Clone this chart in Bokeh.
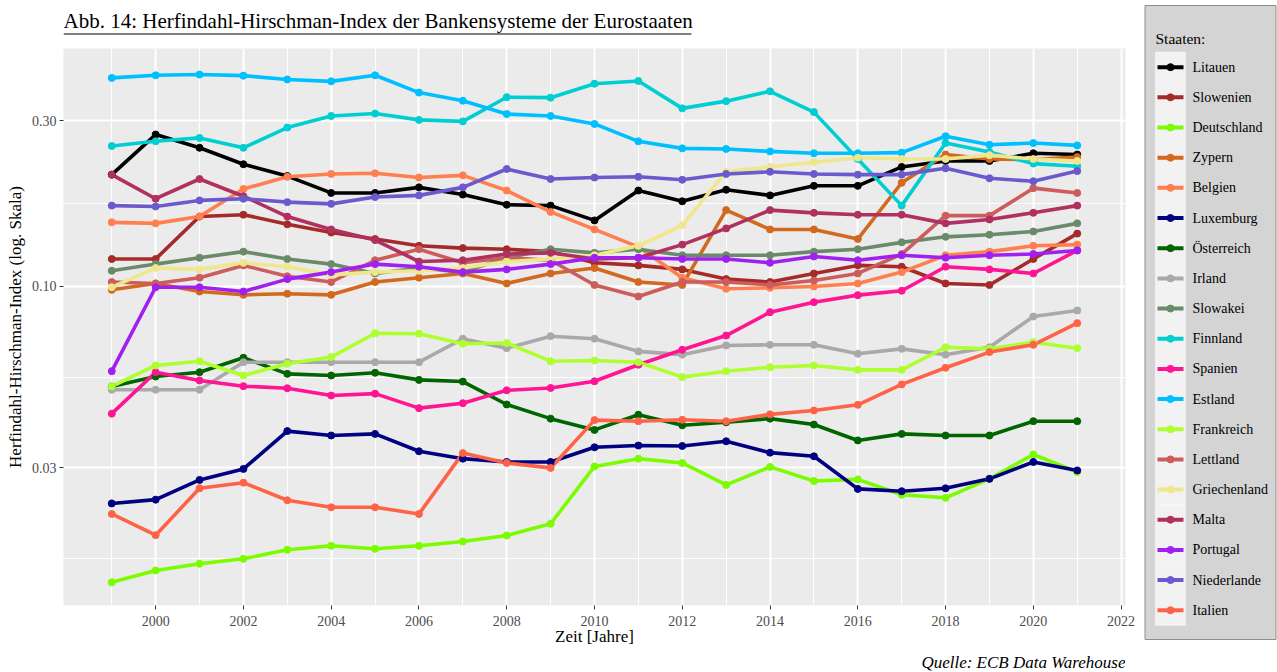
from bokeh.plotting import figure
from bokeh.layouts import row, column
from bokeh.models import Range1d, FixedTicker, CustomJSTickFormatter
from bokeh.embed import file_html
from bokeh.resources import INLINE
from bokeh.core.properties import value

# Herfindahl-Hirschman-Index der Bankensysteme, 1999-2021
jahre = list(range(1999, 2022))

litauen = [0.210, 0.274, 0.251, 0.225, 0.208, 0.186, 0.186, 0.193, 0.184, 0.172, 0.171, 0.155,
           0.189, 0.176, 0.190, 0.183, 0.195, 0.195, 0.221, 0.230, 0.230, 0.242, 0.240]
slowenien = [0.120, 0.120, 0.159, 0.161, 0.151, 0.143, 0.137, 0.131, 0.129, 0.128, 0.126, 0.117,
             0.115, 0.112, 0.105, 0.103, 0.109, 0.115, 0.114, 0.102, 0.101, 0.120, 0.142]
deutschland = [0.01405, 0.01519, 0.01588, 0.01641, 0.01742, 0.0179, 0.01754, 0.0179, 0.01841, 0.01916,
               0.02071, 0.0303, 0.0319, 0.0310, 0.0268, 0.0302, 0.0275, 0.0278, 0.0251, 0.0246,
               0.0279, 0.0328, 0.0292]
zypern = [0.0978, 0.102, 0.0967, 0.0946, 0.0953, 0.0946, 0.103, 0.106, 0.109, 0.102, 0.109, 0.113,
          0.103, 0.101, 0.166, 0.146, 0.146, 0.137, 0.199, 0.240, 0.233, 0.232, 0.236]
belgien = [0.153, 0.152, 0.159, 0.191, 0.207, 0.211, 0.212, 0.206, 0.209, 0.189, 0.164, 0.146,
           0.130, 0.106, 0.0985, 0.0991, 0.100, 0.102, 0.110, 0.123, 0.126, 0.131, 0.132]
luxemburg = [0.0237, 0.0243, 0.0277, 0.0298, 0.0383, 0.0372, 0.0376, 0.0335, 0.0319, 0.0312, 0.0312,
             0.0344, 0.0348, 0.0347, 0.0358, 0.0332, 0.0324, 0.0261, 0.0257, 0.0262, 0.0279, 0.0312,
             0.0295]
oesterreich = [0.0515, 0.0550, 0.0566, 0.0623, 0.0560, 0.0554, 0.0564, 0.0538, 0.0532, 0.0457, 0.0416,
               0.0386, 0.0427, 0.0398, 0.0406, 0.0416, 0.0400, 0.0360, 0.0376, 0.0372, 0.0372, 0.0409,
               0.0409]
irland = [0.0504, 0.0504, 0.0504, 0.0605, 0.0605, 0.0605, 0.0605, 0.0605, 0.0707, 0.0664, 0.0719, 0.0707,
          0.0650, 0.0636, 0.0676, 0.0679, 0.0679, 0.0640, 0.0661, 0.0636, 0.0668, 0.0819, 0.0853]
slowakei = [0.111, 0.116, 0.121, 0.126, 0.120, 0.116, 0.109, 0.113, 0.110, 0.121, 0.128, 0.125,
            0.128, 0.123, 0.123, 0.123, 0.126, 0.128, 0.134, 0.139, 0.141, 0.144, 0.152]
finnland = [0.254, 0.262, 0.268, 0.251, 0.287, 0.310, 0.315, 0.302, 0.299, 0.351, 0.350, 0.384,
            0.391, 0.326, 0.342, 0.365, 0.318, 0.233, 0.171, 0.259, 0.244, 0.226, 0.222]
spanien = [0.0430, 0.0566, 0.0536, 0.0516, 0.0509, 0.0485, 0.0491, 0.0446, 0.0461, 0.0502, 0.0510,
           0.0533, 0.0595, 0.0657, 0.0722, 0.0843, 0.0901, 0.0944, 0.0972, 0.114, 0.112, 0.109, 0.127]
estland = [0.399, 0.406, 0.408, 0.405, 0.395, 0.390, 0.406, 0.362, 0.343, 0.314, 0.310, 0.294,
           0.262, 0.250, 0.249, 0.245, 0.242, 0.242, 0.243, 0.271, 0.256, 0.259, 0.255]
frankreich = [0.0515, 0.0592, 0.0609, 0.0554, 0.0599, 0.0626, 0.0733, 0.0731, 0.0684, 0.0687, 0.0609,
              0.0612, 0.0605, 0.0548, 0.0570, 0.0585, 0.0592, 0.0575, 0.0575, 0.0668, 0.0661, 0.0691,
              0.0664]
lettland = [0.103, 0.102, 0.106, 0.115, 0.107, 0.103, 0.119, 0.128, 0.117, 0.121, 0.119, 0.101,
            0.0936, 0.103, 0.103, 0.101, 0.104, 0.109, 0.124, 0.160, 0.160, 0.192, 0.186]
griechenland = [0.0995, 0.113, 0.112, 0.117, 0.114, 0.108, 0.110, 0.111, 0.113, 0.118, 0.120, 0.123,
                0.131, 0.150, 0.214, 0.221, 0.228, 0.235, 0.233, 0.233, 0.239, 0.233, 0.230]
malta = [0.210, 0.179, 0.204, 0.182, 0.159, 0.146, 0.136, 0.118, 0.119, 0.124, 0.125, 0.120,
         0.121, 0.132, 0.147, 0.166, 0.163, 0.161, 0.161, 0.152, 0.156, 0.163, 0.171]
portugal = [0.0570, 0.0995, 0.0995, 0.0967, 0.105, 0.110, 0.116, 0.114, 0.110, 0.112, 0.116, 0.121,
            0.121, 0.120, 0.120, 0.117, 0.122, 0.119, 0.123, 0.121, 0.123, 0.124, 0.127]
niederlande = [0.171, 0.170, 0.177, 0.179, 0.175, 0.173, 0.181, 0.183, 0.193, 0.218, 0.204, 0.206,
               0.207, 0.203, 0.211, 0.214, 0.211, 0.210, 0.210, 0.219, 0.205, 0.201, 0.215]
italien = [0.0221, 0.0192, 0.0262, 0.0272, 0.0242, 0.0231, 0.0231, 0.0221, 0.0331, 0.0310, 0.0300,
           0.0412, 0.0409, 0.0413, 0.0409, 0.0428, 0.0439, 0.0456, 0.0522, 0.0583, 0.0647, 0.0679,
           0.0784]

staaten = ["Litauen", "Slowenien", "Deutschland", "Zypern", "Belgien", "Luxemburg", "Österreich",
           "Irland", "Slowakei", "Finnland", "Spanien", "Estland", "Frankreich", "Lettland",
           "Griechenland", "Malta", "Portugal", "Niederlande", "Italien"]
werte = [litauen, slowenien, deutschland, zypern, belgien, luxemburg, oesterreich, irland, slowakei,
         finnland, spanien, estland, frankreich, lettland, griechenland, malta, portugal, niederlande,
         italien]
farben = ["#000000", "#A52A2A", "#7CFC00", "#D2691E", "#FF7F50", "#000080", "#006400", "#A9A9A9",
          "#698B69", "#00CED1", "#FF1493", "#00BFFF", "#ADFF2F", "#CD5C5C", "#F0E68C", "#B03060",
          "#A020F0", "#6A5ACD", "#FF6347"]

y_haupt = [0.03, 0.1, 0.3]
y_neben = [0.01643, 0.05477, 0.1732]
x_haupt = list(range(2000, 2023, 2))
x_neben = list(range(1999, 2022, 2))

SERIF = "Liberation Serif"


def leere_flaeche(width, height, xr, yr):
    f = figure(width=width, height=height, x_range=xr, y_range=yr,
               x_axis_location=None, y_axis_location=None, min_border=0,
               toolbar_location=None, output_backend="svg", outline_line_color=None)
    f.grid.visible = False
    return f


# --- title strip (frame is aligned with the panel below: x 63..1125) -------
head = leere_flaeche(1140, 48, Range1d(63, 1125), Range1d(48, 0))
head.text(x=[63], y=[20], text=["Abb. 14: Herfindahl-Hirschman-Index der Bankensysteme der Eurostaaten"],
          text_font=value(SERIF), text_font_size="21px", text_baseline="middle",
          text_align="left", text_color="#000000")
head.segment(x0=[63], y0=[33.5], x1=[691], y1=[33.5], line_color="#000000", line_width=1.2)

# --- main panel ------------------------------------------------------------
p = figure(width=1140, height=605, x_range=Range1d(1997.9, 2022.1),
           y_range=Range1d(0.01204, 0.485), y_axis_type="log",
           min_border_left=63, min_border_right=15, min_border_top=0, min_border_bottom=48,
           toolbar_location=None, output_backend="svg",
           background_fill_color="#EBEBEB", border_fill_color="white", outline_line_color=None)

for vals, col in zip(werte, farben):
    p.line(jahre, vals, line_color=col, line_width=3.6)
for vals, col in zip(werte, farben):
    p.scatter(jahre, vals, size=7, fill_color=col, line_color=col)

xt = FixedTicker(ticks=x_haupt, minor_ticks=x_neben)
yt = FixedTicker(ticks=y_haupt, minor_ticks=y_neben)
p.xaxis.ticker = xt
p.xgrid.ticker = xt
p.yaxis.ticker = yt
p.ygrid.ticker = yt
p.yaxis.formatter = CustomJSTickFormatter(code="return tick.toFixed(2)")

p.grid.grid_line_color = "white"
p.grid.grid_line_width = 2
p.grid.minor_grid_line_color = "white"
p.grid.minor_grid_line_width = 1

p.axis.axis_line_color = None
p.axis.major_tick_line_color = "#333333"
p.axis.major_tick_in = 0
p.axis.major_tick_out = 4
p.axis.minor_tick_line_color = None
p.axis.major_label_text_font = SERIF
p.axis.major_label_text_font_size = "14px"
p.axis.major_label_text_color = "#4D4D4D"
p.yaxis.major_label_standoff = 3
p.xaxis.major_label_standoff = 6
p.axis.axis_label_text_font = SERIF
p.axis.axis_label_text_font_size = "17px"
p.axis.axis_label_text_font_style = "normal"
p.axis.axis_label_text_color = "#000000"
p.xaxis.axis_label = "Zeit [Jahre]"
p.yaxis.axis_label = "Herfindahl-Hirschman-Index (log. Skala)"
p.xaxis.axis_label_standoff = -2
p.yaxis.axis_label_standoff = 4

# --- source line -----------------------------------------------------------
foot = leere_flaeche(1140, 19, Range1d(63, 1125), Range1d(672, 653))
foot.text(x=[1125], y=[662], text=["Quelle: ECB Data Warehouse"], text_font=value(SERIF),
          text_font_size="17px", text_font_style="italic", text_baseline="middle",
          text_align="right", text_color="#000000")

# --- legend ----------------------------------------------------------------
n = len(staaten)
pitch = 30.17
y0 = 51.6
mitte = [y0 + pitch * (i + 0.5) for i in range(n)]

leg = leere_flaeche(137, 672, Range1d(0, 137), Range1d(672, 0))
leg.quad(left=[4.5], right=[135.5], top=[5], bottom=[639], fill_color="#D4D4D4",
         line_color="#8E8E8E", line_width=1)
leg.quad(left=[15] * n, right=[45] * n, top=[y0 + pitch * i for i in range(n)],
         bottom=[y0 + pitch * (i + 1) for i in range(n)],
         fill_color="#F2F2F2", line_color="#F8F8F8", line_width=0.6)
leg.segment(x0=[17] * n, y0=mitte, x1=[43] * n, y1=mitte, line_color=farben, line_width=4)
leg.scatter(x=[30] * n, y=mitte, size=7, fill_color=farben, line_color=farben)
leg.text(x=[52] * n, y=mitte, text=staaten, text_font=value(SERIF), text_font_size="14px",
         text_baseline="middle", text_align="left", text_color="#000000")
leg.text(x=[15], y=[38], text=["Staaten:"], text_font=value(SERIF), text_font_size="15.5px",
         text_baseline="middle", text_align="left", text_color="#000000")

layout = row(column(head, p, foot), leg)
open("out.html", "w").write(file_html(layout, INLINE))
